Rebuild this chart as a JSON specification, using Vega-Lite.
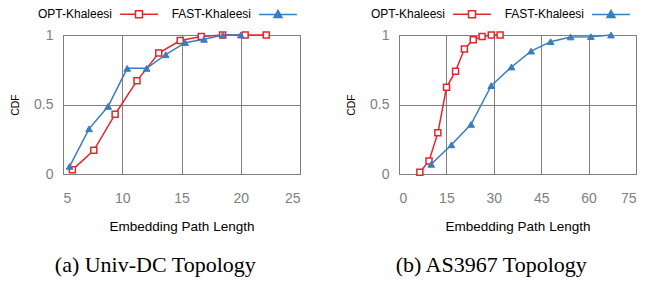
{
  "$schema": "https://vega.github.io/schema/vega-lite/v6.json",
  "padding": {"left": 10, "top": 7, "right": 5, "bottom": 2},
  "spacing": 45,
  "resolve": {"legend": {"color": "independent"}, "scale": {"color": "independent"}},
  "config": {
    "font": "Liberation Sans",
    "view": {"stroke": "#808080", "strokeWidth": 1},
    "axis": {
      "grid": true,
      "gridColor": "#808080",
      "gridOpacity": 1,
      "gridWidth": 1,
      "domain": false,
      "ticks": false,
      "labelColor": "#808080",
      "labelFontSize": 14,
      "labelFont": "Liberation Sans",
      "titleFont": "Liberation Sans",
      "titleFontWeight": "normal",
      "titleColor": "#000000"
    },
    "legend": {
      "labelFontSize": 12,
      "labelColor": "#000000",
      "labelFont": "Liberation Sans",
      "symbolSize": 49,
      "columnPadding": 10
    },
    "title": {"font": "Liberation Serif", "fontSize": 22, "fontWeight": "normal", "color": "#000000", "orient": "bottom", "offset": 22, "frame": "bounds", "anchor": "middle"}
  },
  "hconcat": [
    {
      "width": 237,
      "height": 139,
      "title": "(a) Univ-DC Topology",
      "data": {
        "values": [
          {"series": "OPT-Khaleesi", "x": 5.79, "cdf": 0.03},
          {"series": "OPT-Khaleesi", "x": 7.6, "cdf": 0.17},
          {"series": "OPT-Khaleesi", "x": 9.4, "cdf": 0.43},
          {"series": "OPT-Khaleesi", "x": 11.24, "cdf": 0.67},
          {"series": "OPT-Khaleesi", "x": 13.08, "cdf": 0.87},
          {"series": "OPT-Khaleesi", "x": 14.89, "cdf": 0.96},
          {"series": "OPT-Khaleesi", "x": 16.67, "cdf": 0.99},
          {"series": "OPT-Khaleesi", "x": 18.47, "cdf": 1.0},
          {"series": "OPT-Khaleesi", "x": 20.37, "cdf": 1.0},
          {"series": "OPT-Khaleesi", "x": 22.15, "cdf": 1.0},
          {"series": "FAST-Khaleesi", "x": 5.56, "cdf": 0.055},
          {"series": "FAST-Khaleesi", "x": 7.2, "cdf": 0.325},
          {"series": "FAST-Khaleesi", "x": 8.81, "cdf": 0.487},
          {"series": "FAST-Khaleesi", "x": 10.42, "cdf": 0.76},
          {"series": "FAST-Khaleesi", "x": 12.06, "cdf": 0.76},
          {"series": "FAST-Khaleesi", "x": 13.67, "cdf": 0.858},
          {"series": "FAST-Khaleesi", "x": 15.31, "cdf": 0.945},
          {"series": "FAST-Khaleesi", "x": 16.9, "cdf": 0.969},
          {"series": "FAST-Khaleesi", "x": 18.5, "cdf": 1.0},
          {"series": "FAST-Khaleesi", "x": 20.0, "cdf": 1.0}
        ]
      },
      "encoding": {
        "x": {"field": "x", "type": "quantitative", "scale": {"domain": [5, 25], "nice": false, "zero": false}, "axis": {"values": [5, 10, 15, 20, 25], "title": "Embedding Path Length", "labelPadding": 17, "titlePadding": 14, "titleFontSize": 13.5}},
        "y": {"field": "cdf", "type": "quantitative", "scale": {"domain": [0, 1], "nice": false}, "axis": {"values": [0, 0.5, 1], "format": "~g", "title": "CDF", "labelPadding": 10, "titlePadding": 13, "titleFontSize": 10.5}},
        "color": {
          "field": "series", "type": "nominal",
          "scale": {"domain": ["OPT-Khaleesi", "FAST-Khaleesi"], "range": ["#e3262b", "#3b7cc0"]},
          "legend": {
            "title": null,
            "orient": "none",
            "direction": "horizontal",
            "legendX": 70,
            "legendY": -27,
            "encode": {
              "symbols": {"update": {
                "shape": {"signal": "datum.value === 'OPT-Khaleesi' ? 'M-5.4,0H-1M1,0H5.4M-1,-1H1V1H-1Z' : 'M-5.4,0H5.4M0,-1.15L1.15,0.9H-1.15Z'"},
                "fill": {"signal": "datum.value === 'OPT-Khaleesi' ? '#ffffff' : '#3b7cc0'"},
                "stroke": {"signal": "datum.value === 'OPT-Khaleesi' ? '#e3262b' : '#3b7cc0'"},
                "strokeWidth": {"value": 1.5},
                "opacity": {"value": 1}
              }},
              "labels": {"update": {"align": {"value": "right"}, "x": {"value": -21}}}
            }
          }
        }
      },
      "layer": [
        {"mark": {"type": "line", "strokeWidth": 1.5}},
        {
          "transform": [{"filter": "datum.series === 'OPT-Khaleesi'"}],
          "mark": {"type": "point", "shape": "square", "filled": false, "fill": "#ffffff", "fillOpacity": 1, "strokeWidth": 1.5, "size": 36, "opacity": 1}
        },
        {
          "transform": [{"filter": "datum.series === 'FAST-Khaleesi'"}],
          "mark": {"type": "point", "shape": "triangle-up", "filled": false, "fill": "#3b7cc0", "fillOpacity": 1, "strokeWidth": 1, "size": 45, "opacity": 1}
        }
      ]
    },
    {
      "width": 237,
      "height": 139,
      "title": "(b) AS3967 Topology",
      "data": {
        "values": [
          {"series": "OPT-Khaleesi", "x": 6.6, "cdf": 0.012},
          {"series": "OPT-Khaleesi", "x": 9.5, "cdf": 0.094},
          {"series": "OPT-Khaleesi", "x": 12.3, "cdf": 0.296},
          {"series": "OPT-Khaleesi", "x": 15.05, "cdf": 0.624},
          {"series": "OPT-Khaleesi", "x": 17.9, "cdf": 0.74},
          {"series": "OPT-Khaleesi", "x": 20.7, "cdf": 0.899},
          {"series": "OPT-Khaleesi", "x": 23.5, "cdf": 0.966},
          {"series": "OPT-Khaleesi", "x": 26.3, "cdf": 0.99},
          {"series": "OPT-Khaleesi", "x": 29.2, "cdf": 1.0},
          {"series": "OPT-Khaleesi", "x": 32.0, "cdf": 1.0},
          {"series": "FAST-Khaleesi", "x": 10.2, "cdf": 0.07},
          {"series": "FAST-Khaleesi", "x": 16.6, "cdf": 0.21},
          {"series": "FAST-Khaleesi", "x": 22.8, "cdf": 0.357},
          {"series": "FAST-Khaleesi", "x": 29.2, "cdf": 0.636},
          {"series": "FAST-Khaleesi", "x": 35.6, "cdf": 0.77},
          {"series": "FAST-Khaleesi", "x": 41.8, "cdf": 0.884},
          {"series": "FAST-Khaleesi", "x": 48.0, "cdf": 0.952},
          {"series": "FAST-Khaleesi", "x": 54.3, "cdf": 0.986},
          {"series": "FAST-Khaleesi", "x": 60.7, "cdf": 0.988},
          {"series": "FAST-Khaleesi", "x": 67.1, "cdf": 1.0}
        ]
      },
      "encoding": {
        "x": {"field": "x", "type": "quantitative", "scale": {"domain": [0, 75], "nice": false}, "axis": {"values": [0, 15, 30, 45, 60, 75], "title": "Embedding Path Length", "labelPadding": 17, "titlePadding": 14, "titleFontSize": 13.5}},
        "y": {"field": "cdf", "type": "quantitative", "scale": {"domain": [0, 1], "nice": false}, "axis": {"values": [0, 0.5, 1], "format": "~g", "title": "CDF", "labelPadding": 10, "titlePadding": 13, "titleFontSize": 10.5}},
        "color": {
          "field": "series", "type": "nominal",
          "scale": {"domain": ["OPT-Khaleesi", "FAST-Khaleesi"], "range": ["#e3262b", "#3b7cc0"]},
          "legend": {
            "title": null,
            "orient": "none",
            "direction": "horizontal",
            "legendX": 67,
            "legendY": -27,
            "encode": {
              "symbols": {"update": {
                "shape": {"signal": "datum.value === 'OPT-Khaleesi' ? 'M-5.4,0H-1M1,0H5.4M-1,-1H1V1H-1Z' : 'M-5.4,0H5.4M0,-1.15L1.15,0.9H-1.15Z'"},
                "fill": {"signal": "datum.value === 'OPT-Khaleesi' ? '#ffffff' : '#3b7cc0'"},
                "stroke": {"signal": "datum.value === 'OPT-Khaleesi' ? '#e3262b' : '#3b7cc0'"},
                "strokeWidth": {"value": 1.5},
                "opacity": {"value": 1}
              }},
              "labels": {"update": {"align": {"value": "right"}, "x": {"value": -21}}}
            }
          }
        }
      },
      "layer": [
        {"mark": {"type": "line", "strokeWidth": 1.5}},
        {
          "transform": [{"filter": "datum.series === 'OPT-Khaleesi'"}],
          "mark": {"type": "point", "shape": "square", "filled": false, "fill": "#ffffff", "fillOpacity": 1, "strokeWidth": 1.5, "size": 36, "opacity": 1}
        },
        {
          "transform": [{"filter": "datum.series === 'FAST-Khaleesi'"}],
          "mark": {"type": "point", "shape": "triangle-up", "filled": false, "fill": "#3b7cc0", "fillOpacity": 1, "strokeWidth": 1, "size": 45, "opacity": 1}
        }
      ]
    }
  ]
}
